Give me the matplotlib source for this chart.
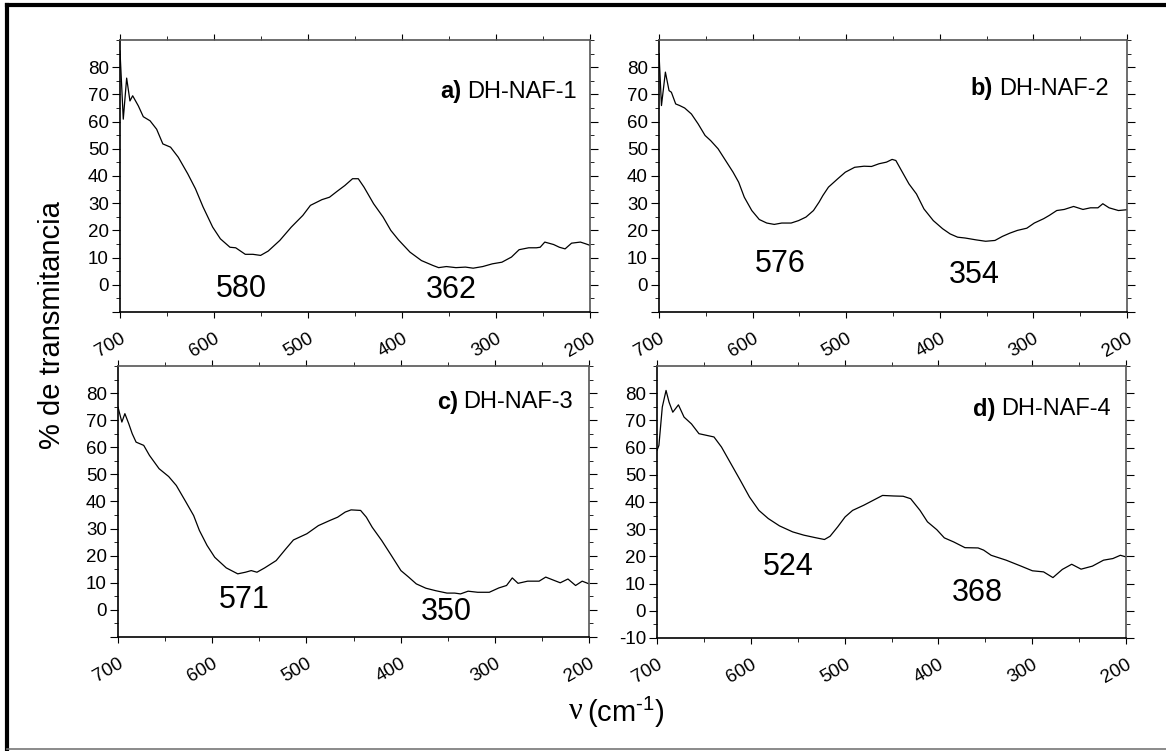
import matplotlib
matplotlib.use("Agg")
import matplotlib.pyplot as plt
from matplotlib.lines import Line2D
from matplotlib.ticker import MultipleLocator

plt.rcParams["font.family"] = ["Liberation Sans", "DejaVu Sans"]
plt.rcParams["mathtext.fontset"] = "custom"
plt.rcParams["mathtext.rm"] = "Liberation Sans"
plt.rcParams["mathtext.it"] = "Liberation Sans:italic"
plt.rcParams["mathtext.default"] = "regular"

# FTIR spectra, wavenumber (cm-1) vs % transmittance
waveA = [700, 696.5, 692.9, 689.4, 686.5, 680.5, 675.2, 668, 661, 654.4, 646.2, 638, 627.9,
         619.7, 611.6, 601.4, 593.2, 583, 576.9, 566.7, 558.6, 550.4, 542.3, 530, 517.8,
         505.5, 497.4, 485.2, 477.1, 468.9, 460.8, 452.6, 446.5, 440.4, 430.2, 420.1,
         411.9, 403.7, 391.5, 379.3, 367.1, 361, 352.8, 342.6, 332.5, 324.3, 314.1, 303.9,
         293.7, 283.5, 275.4, 265.2, 257, 253, 248.1, 238.7, 232.6, 226.5, 219.6, 210.2,
         204.9, 200]
transA = [86, 60.9, 76, 67.6, 69.5, 65.8, 61.8, 60.3, 57.2, 51.8, 50.6, 46.9, 40.8,
          35.3, 28.6, 21.2, 16.9, 13.8, 13.6, 11.2, 11.2, 10.8, 12.4, 16.3, 21.2,
          25.5, 29.2, 31.3, 32.2, 34.4, 36.5, 39, 39, 35.9, 29.8, 24.9,
          20, 16.5, 12, 8.9, 7.1, 6.3, 6.7, 6.3, 6.5, 6.1, 6.7, 7.7,
          8.3, 10.2, 12.9, 13.6, 13.6, 13.8, 15.7, 14.8, 13.8, 13.2, 15.3, 15.7,
          15.1, 14.5]

waveB = [700, 697.4, 693.2, 689.3, 686.8, 682.2, 677.9, 672.6, 665.4, 658.3, 650.8, 644.8,
         636.9, 628.9, 620.9, 614.9, 608.9, 600.9, 592.9, 584.9, 576.9, 568.9, 558.9,
         550.9, 543, 535, 529, 525, 519, 509, 501, 491, 481, 473, 465, 457, 451, 447,
         441, 433, 425, 417, 407, 397, 389, 381, 373.1, 361.1, 351.1, 341.1, 333.1,
         325.1, 317.1, 307.1, 299.1, 289.1, 283.1, 275.1, 267.1, 257.1, 247.1, 239.1,
         231.1, 225.9, 219.2, 209.2, 200]
transB = [85, 65.9, 78.2, 71.4, 70.8, 66.5, 65.9, 65, 62.8, 59.2, 54.9, 53,
          50, 45.7, 41.4, 37.7, 32.2, 27.3, 24, 22.7, 22.2, 22.7, 22.7,
          23.6, 24.9, 27.3, 30.4, 32.8, 35.9, 39, 41.4, 43.2, 43.6, 43.5, 44.5, 45.1, 46.1, 45.7,
          42, 37.1, 33.4, 27.9, 23.6, 20.6, 18.7, 17.5, 17.2, 16.5, 16, 16.3, 17.8,
          19, 20, 20.8, 22.7, 24.3, 25.5, 27.3, 27.7, 28.8, 27.7, 28.3,
          28.3, 29.8, 28.3, 27.3, 27.6]

waveC = [700, 695.9, 692.7, 688.6, 684.9, 680.8, 672.7, 666.6, 656.4, 646.2, 638.1, 627.9,
         619.7, 613.6, 605.5, 597.3, 585.1, 572.9, 564.7, 558.6, 552.5, 544.3, 532.1,
         521.9, 513.8, 499.5, 487.3, 475.1, 466.9, 458.8, 452.6, 442.5, 436.4, 430.2,
         420.1, 409.9, 399.7, 391.5, 383.4, 373.2, 363, 350.8, 342.6, 336.5, 328.4,
         318.2, 305.9, 295.8, 287.6, 281.5, 275.4, 265.2, 253, 246, 238.7, 230.6,
         222.4, 214.3, 207.3, 200]
transC = [74.8, 69.3, 72.4, 68.7, 65, 61.9, 60.7, 57, 52.1, 49.2, 45.9, 39.8,
          34.8, 29.3, 23.8, 19.4, 15.5, 13.3, 13.9, 14.5, 13.9, 15.5, 18.2,
          22.5, 25.8, 28.1, 31.1, 33, 34.2, 36.1, 36.9, 36.7, 34.2, 30.5,
          25.6, 20.1, 14.5, 12.1, 9.6, 8, 7.1, 6.2, 6.2, 5.9, 6.9,
          6.5, 6.5, 8.1, 9, 11.8, 9.8, 10.6, 10.6, 12.1, 11.1, 10,
          11.4, 9, 10.6, 9.6]

waveD = [700, 698, 694.4, 690.4, 687.2, 683.2, 677.2, 671.2, 663.3, 655.3, 647.3, 639.3,
         631.3, 621.3, 611.3, 601.4, 591.4, 581.4, 569.4, 555.4, 543.5, 531.5, 521.5,
         515.5, 507.5, 499.5, 491.5, 479.6, 469.6, 459.6, 447.6, 437.6, 429.6, 419.6,
         411.7, 401.7, 393.7, 383.7, 371.7, 357.7, 351.8, 343.8, 327.8, 311.8, 299.8,
         287.9, 277.9, 267.9, 257.9, 247.9, 235.9, 224, 214, 206, 200]
transD = [59, 60.8, 74.9, 81, 76.7, 73, 75.7, 71.2, 68.7, 65.1, 64.5, 63.9,
          60.2, 54.1, 48, 41.8, 36.9, 33.9, 31.2, 29, 27.8, 26.9, 26.2,
          27.4, 30.8, 34.5, 36.9, 38.8, 40.6, 42.4, 42.2, 42.1, 41.2, 36.9,
          32.7, 29.8, 26.8, 25.3, 23.2, 23.1, 22.3, 20.4, 18.6, 16.4, 14.7,
          14.3, 12.2, 15.2, 17.1, 15.3, 16.4, 18.6, 19.2, 20.4, 19.8]

panelNames  = ["a)", "b)", "c)", "d)"]
sampleNames = ["DH-NAF-1", "DH-NAF-2", "DH-NAF-3", "DH-NAF-4"]
namePos     = [(214, 71), (220, 72), (217, 76.6), (216, 74)]
peakLabels  = [["580", "362"], ["576", "354"], ["571", "350"], ["524", "368"]]
peakPos     = [[(571, -1.5), (348, -1.8)], [(570, 7.6), (363.5, 3.5)],
               [(566, 3.6), (351, -0.9)], [(560, 16.1), (358, 6.4)]]

spectra = [(waveA, transA), (waveB, transB), (waveC, transC), (waveD, transD)]
boxes = [[0.1029, 0.5846, 0.4031, 0.3621],
         [0.5652, 0.5846, 0.4014, 0.3621],
         [0.1012, 0.1518, 0.4040, 0.3609],
         [0.5635, 0.1505, 0.4022, 0.3622]]

fig = plt.figure(figsize=(11.66, 7.51), dpi=100)

for i, (box, (wave, trans)) in enumerate(zip(boxes, spectra)):
    ax = fig.add_axes(box)
    ax.plot(wave, trans, color="black", lw=0.9)
    ax.set_xlim(700, 200)
    ax.set_ylim(-10, 90)

    ax.xaxis.set_major_locator(MultipleLocator(100))
    ax.xaxis.set_minor_locator(MultipleLocator(50))
    ax.set_yticks(range(-10, 90, 10))
    ax.yaxis.set_minor_locator(MultipleLocator(5))
    ylabels = [str(v) for v in range(-10, 90, 10)]
    if i != 3:
        ylabels[0] = ""
    ax.set_yticklabels(ylabels)

    ax.tick_params(which="both", direction="out", labelsize=13.5, colors="black")
    ax.tick_params(axis="y", which="major", length=6, pad=2)
    ax.tick_params(axis="y", which="minor", length=3)
    ax.tick_params(axis="x", which="major", length=4, pad=9)
    ax.tick_params(axis="x", which="minor", length=3)
    ax.tick_params(which="both", top=True, right=True)
    for lbl in ax.get_xticklabels():
        lbl.set_rotation(30)
        lbl.set_ha("right")
        lbl.set_rotation_mode("anchor")

    for side in ["left", "bottom"]:
        ax.spines[side].set_linewidth(1.2)
        ax.spines[side].set_color("black")
    for side in ["top", "right"]:
        ax.spines[side].set_linewidth(1.2)
        ax.spines[side].set_color("#555555")

    nx, ny = namePos[i]
    title = ax.text(nx, ny, sampleNames[i], fontsize=17, ha="right", va="center")
    ax.annotate(panelNames[i], xy=(0, 0.5), xycoords=title, xytext=(-4, 0),
                textcoords="offset points", ha="right", va="center",
                fontsize=17, fontweight="bold")

    for txt, (px, py) in zip(peakLabels[i], peakPos[i]):
        ax.text(px, py, txt, fontsize=22, ha="center", va="center")

fig.text(0.0446, 0.567, "% de transmitancia", rotation=90, fontsize=21,
         ha="center", va="center")
fig.text(0.4995, 0.052, "ν", family="Liberation Serif", fontsize=22,
         ha="right", va="center")
fig.text(0.5035, 0.052, r"(cm$^{\text{-}1}$)", fontsize=21, ha="left", va="center")

# outer frame
fig.add_artist(Line2D([0.006, 1.0], [0.9935, 0.9935], color="black", lw=3,
                      transform=fig.transFigure))
fig.add_artist(Line2D([0.006, 0.006], [0.0027, 0.9935], color="black", lw=3,
                      transform=fig.transFigure))
fig.add_artist(Line2D([0.006, 1.0], [0.0027, 0.0027], color="#777777", lw=1.2,
                      transform=fig.transFigure))

fig.savefig("out.png", dpi=100)
